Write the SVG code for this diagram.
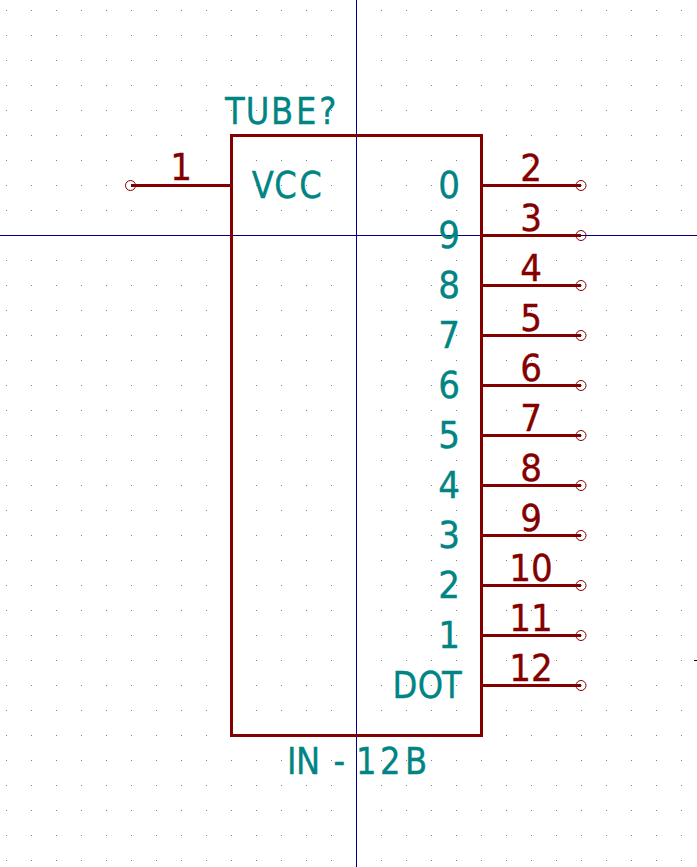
<svg xmlns="http://www.w3.org/2000/svg" width="697" height="867" viewBox="0 0 697 867">
<style>
.t{font-family:"DejaVu Sans","Liberation Sans",sans-serif;font-size:38px;stroke-width:.4;stroke-linejoin:round}
.teal{fill:#008484;stroke:#008484}
.num{fill:#840000;stroke:#840000;text-anchor:middle}
.end{text-anchor:end}
.pin{stroke:#840000;stroke-width:3;fill:none}
.ring{stroke:#840000;stroke-width:1;fill:none}
.cross{stroke:#000084;stroke-width:1;fill:none}
</style>
<defs>
<pattern id="grid" x="6" y="10" width="25" height="25" patternUnits="userSpaceOnUse"><rect width="1" height="1" fill="#848484"/></pattern>
<circle id="pinEnd" class="ring" r="5"/>
</defs>
<rect width="697" height="867" fill="#fff"/>
<rect id="grid-dots" width="697" height="867" fill="url(#grid)"/>
<g id="crosshair">
<path class="cross" d="M356.5 0V867M0 235.5H697"/>
</g>
<rect x="694" y="660" width="3" height="1" fill="#000"/>
<g id="connectors">
<path class="pin" d="M131 185.5H231M481 185.5H581M481 235.5H581M481 285.5H581M481 335.5H581M481 385.5H581M481 435.5H581M481 485.5H581M481 535.5H581M481 585.5H581M481 635.5H581M481 685.5H581"/>
<use href="#pinEnd" x="130.5" y="185.5"/>
<use href="#pinEnd" x="581" y="185.5"/>
<use href="#pinEnd" x="581" y="235.5"/>
<use href="#pinEnd" x="581" y="285.5"/>
<use href="#pinEnd" x="581" y="335.5"/>
<use href="#pinEnd" x="581" y="385.5"/>
<use href="#pinEnd" x="581" y="435.5"/>
<use href="#pinEnd" x="581" y="485.5"/>
<use href="#pinEnd" x="581" y="535.5"/>
<use href="#pinEnd" x="581" y="585.5"/>
<use href="#pinEnd" x="581" y="635.5"/>
<use href="#pinEnd" x="581" y="685.5"/>
</g>
<g id="tube">
<rect x="231.5" y="135.5" width="250" height="600" fill="none" stroke="#840000" stroke-width="3"/>
<text class="t teal" transform="translate(225 124) scale(.85 1)" x="0 24.3 54.1 83.6 110.9">TUBE?</text>
<text class="t teal" transform="translate(251.8 198) scale(.85 1)" x="0 26.4 55.9">VCC</text>
<text class="t teal" transform="translate(392.5 698) scale(.85 1)" x="0 29.7 58.3">DOT</text>
<text class="t teal" transform="translate(287 774) scale(.85 1)" x="0 10.5 54.7 81.1 109.4 138.8">IN-12B</text>
<g class="t teal end">
<text transform="translate(460 198) scale(.9 1)">0</text>
<text transform="translate(460 248) scale(.9 1)">9</text>
<text transform="translate(460 298) scale(.9 1)">8</text>
<text transform="translate(460 348) scale(.9 1)">7</text>
<text transform="translate(460 398) scale(.9 1)">6</text>
<text transform="translate(460 448) scale(.9 1)">5</text>
<text transform="translate(460 498) scale(.9 1)">4</text>
<text transform="translate(460 548) scale(.9 1)">3</text>
<text transform="translate(460 598) scale(.9 1)">2</text>
<text transform="translate(460 648) scale(.9 1)">1</text>
</g>
<g class="t num">
<text transform="translate(181 180) scale(.9 1)">1</text>
<text transform="translate(531 181) scale(.9 1)">2</text>
<text transform="translate(531 231) scale(.9 1)">3</text>
<text transform="translate(531 281) scale(.9 1)">4</text>
<text transform="translate(531 331) scale(.9 1)">5</text>
<text transform="translate(531 381) scale(.9 1)">6</text>
<text transform="translate(531 431) scale(.9 1)">7</text>
<text transform="translate(531 481) scale(.9 1)">8</text>
<text transform="translate(531 531) scale(.9 1)">9</text>
<text transform="translate(531 581) scale(.9 1)">10</text>
<text transform="translate(531 631) scale(.9 1)">11</text>
<text transform="translate(531 681) scale(.9 1)">12</text>
</g>
</g>
</svg>
